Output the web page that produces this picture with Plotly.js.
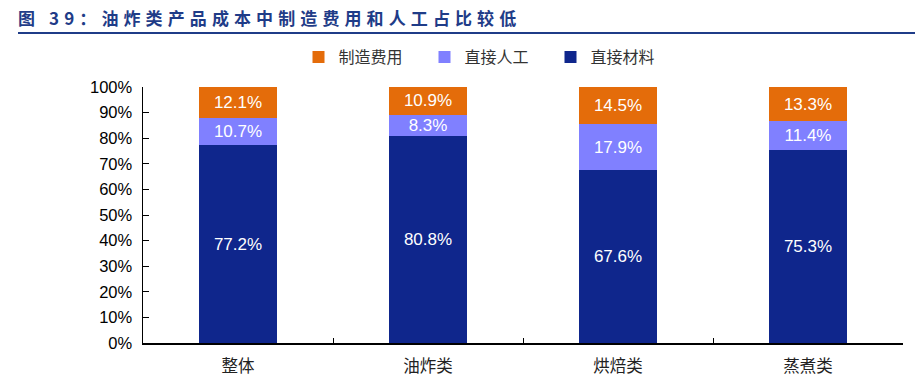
<!DOCTYPE html>
<html><head><meta charset="utf-8">
<script src="https://cdn.plot.ly/plotly-3.0.1.min.js"></script>
<style>html,body{margin:0;padding:0;background:#fff;}#chart{width:915px;height:382px;}</style>
</head><body><div id="chart"></div>
<script>
const categories = ['整体', '油炸类', '烘焙类', '蒸煮类'];
const material = [77.2, 80.8, 67.6, 75.3];
const labor = [10.7, 8.3, 17.9, 11.4];
const manufacturing = [12.1, 10.9, 14.5, 13.3];
const yTicks = [0, 10, 20, 30, 40, 50, 60, 70, 80, 90, 100];

const fontNum = 'Liberation Sans, Arial, sans-serif';
const fontCJK = 'Noto Sans CJK SC, sans-serif';
function mk(name, vals, color) {
  return {
    type: 'bar', name: name, x: categories, y: vals,
    marker: {color: color, line: {width: 0}},
    width: 0.41,
    text: vals.map(v => v.toFixed(1) + '%'),
    textposition: 'inside', insidetextanchor: 'middle', constraintext: 'none',
    textfont: {family: fontNum, size: 17, color: '#ffffff'},
    hoverinfo: 'none', cliponaxis: false
  };
}
const data = [
  mk('直接材料', material, '#0F268C'),
  mk('直接人工', labor, '#8080FF'),
  mk('制造费用', manufacturing, '#E46C0A')
];
const PH = 256, PB = 343;
const layout = {
  width: 915, height: 382,
  margin: {l: 143, r: 12, t: 87, b: 39, autoexpand: false},
  barmode: 'stack', bargap: 0.59,
  showlegend: true,
  legend: {orientation: 'h', x: 0.5 + 30/915, xanchor: 'center', xref: 'container', y: 1 - 57/382, yref: 'container', yanchor: 'middle',
           traceorder: 'reversed', font: {family: fontCJK, size: 16, color: '#333'}, entrywidth: 81,
           bgcolor: 'rgba(0,0,0,0)'},
  xaxis: {type: 'category', showline: true, linecolor: '#000', linewidth: 1.5, ticks: 'inside', tickson: 'boundaries',
          ticklen: 5, tickcolor: '#000', tickfont: {family: fontCJK, size: 16.5, color: '#222'}, showgrid: false, zeroline: false,
          ticklabelstandoff: 8},
  yaxis: {range: [0, 100], tickvals: yTicks, ticktext: yTicks.map(v => v + '%'), showline: true, linecolor: '#000', linewidth: 1.5,
          ticks: 'inside', ticklen: 6, tickcolor: '#000', tickfont: {family: fontNum, size: 16.5, color: '#000'},
          showgrid: false, zeroline: false, ticklabelstandoff: 6},
  shapes: [{type: 'line', layer: 'above', xref: 'paper', yref: 'paper', x0: -125/760, x1: (915-143)/760, y0: (PB-33)/PH, y1: (PB-33)/PH,
            line: {color: '#1F3C88', width: 2}}],
  annotations: [{text: '<b>图 39：油炸类产品成本中制造费用和人工占比较低</b>', xref: 'paper', yref: 'paper',
                 x: -125/760, xanchor: 'left', y: (PB-17)/PH, yanchor: 'middle', showarrow: false,
                 font: {family: fontCJK, size: 17, color: '#1F3C88'}}]
};
Plotly.newPlot('chart', data, layout, {staticPlot: true}).then(function(gd){
  const t = gd.querySelector('.annotation-text');
  if (t) {
    t.style.letterSpacing = '5.1px';
    const r = t.getBoundingClientRect();
    const dx = 18 - r.left;
    const prev = t.getAttribute('transform') || '';
    t.setAttribute('transform', prev + ' translate(' + dx + ',0)');
  }
});
</script></body></html>
